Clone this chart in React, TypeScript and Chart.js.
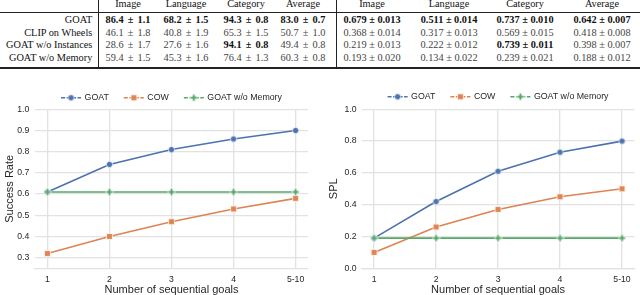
import React, { useEffect, useRef } from 'react';
import { Chart, registerables } from 'chart.js';

Chart.register(...registerables);

// ---------- data ----------
const GOAL_LABELS = ['1', '2', '3', '4', '5-10'];
const SERIES_NAMES = ['GOAT', 'COW', 'GOAT w/o Memory'];

const SR_GOAT = [0.61, 0.74, 0.81, 0.86, 0.9];
const SR_COW = [0.32, 0.4, 0.47, 0.53, 0.58];
const SR_NO_MEMORY = [0.61, 0.61, 0.61, 0.61, 0.61];
const SR_TICKS = [0.3, 0.4, 0.5, 0.6, 0.7, 0.8, 0.9, 1.0];

const SPL_GOAT = [0.19, 0.42, 0.61, 0.73, 0.8];
const SPL_COW = [0.1, 0.26, 0.37, 0.45, 0.5];
const SPL_NO_MEMORY = [0.19, 0.19, 0.19, 0.19, 0.19];
const SPL_TICKS = [0.0, 0.2, 0.4, 0.6, 0.8, 1.0];

const TABLE_COLUMNS = ['Image', 'Language', 'Category', 'Average'];
const TABLE_METHODS = ['GOAT', 'CLIP on Wheels', 'GOAT w/o Instances', 'GOAT w/o Memory'];
const SR_MEAN = [
  [86.4, 68.2, 94.3, 83.0],
  [46.1, 40.8, 65.3, 50.7],
  [28.6, 27.6, 94.1, 49.4],
  [59.4, 45.3, 76.4, 60.3],
];
const SR_STD = [
  [1.1, 1.5, 0.8, 0.7],
  [1.8, 1.9, 1.5, 1.0],
  [1.7, 1.6, 0.8, 0.8],
  [1.5, 1.6, 1.3, 0.8],
];
const SPL_MEAN = [
  [0.679, 0.511, 0.737, 0.642],
  [0.368, 0.317, 0.569, 0.418],
  [0.219, 0.222, 0.739, 0.398],
  [0.193, 0.134, 0.239, 0.188],
];
const SPL_STD = [
  [0.013, 0.014, 0.01, 0.007],
  [0.014, 0.013, 0.015, 0.008],
  [0.013, 0.012, 0.011, 0.007],
  [0.02, 0.022, 0.021, 0.012],
];
const SR_BOLD = [
  [true, true, true, true],
  [false, false, false, false],
  [false, false, true, false],
  [false, false, false, false],
];
const SPL_BOLD = [
  [true, true, true, true],
  [false, false, false, false],
  [false, false, true, false],
  [false, false, false, false],
];

// ---------- styles ----------
const SANS = '"Liberation Sans", Arial, Helvetica, sans-serif';
const SERIF = '"Liberation Serif", "Times New Roman", serif';
const COLORS = ['#4C72B0', '#DD8452', '#55A868'];
const MARKERS = ['circle', 'square', 'plus'];
const GRID = '#e2e2e2';
const TEXT = '#262626';

function makeMarker(shape: string, color: string): HTMLCanvasElement {
  const c = document.createElement('canvas');
  const s = 9;
  c.width = s;
  c.height = s;
  const g = c.getContext('2d')!;
  g.fillStyle = color;
  g.strokeStyle = '#ffffff';
  g.lineWidth = 0.7;
  g.beginPath();
  if (shape === 'circle') {
    g.arc(4.5, 4.5, 3.1, 0, Math.PI * 2);
  } else if (shape === 'square') {
    g.rect(1.6, 1.6, 5.8, 5.8);
  } else {
    const a = 1.0, b = 3.2, c2 = 5.8, d = 8.0;
    g.moveTo(b, a); g.lineTo(c2, a); g.lineTo(c2, b); g.lineTo(d, b); g.lineTo(d, c2);
    g.lineTo(c2, c2); g.lineTo(c2, d); g.lineTo(b, d); g.lineTo(b, c2); g.lineTo(a, c2);
    g.lineTo(a, b); g.lineTo(b, b); g.closePath();
  }
  g.fill();
  g.stroke();
  return c;
}

const seriesLegend = {
  id: 'seriesLegend',
  afterDraw(chart: any, _args: any, opts: any) {
    const { ctx, chartArea } = chart;
    const y = opts.y;
    ctx.save();
    ctx.font = `${opts.fontSize}px ${SANS}`;
    ctx.textBaseline = 'middle';
    const symW = 20, gap = 3.5, sep = 15;
    const items = chart.data.datasets.map((ds: any) => ({
      label: ds.label,
      color: ds.borderColor,
      marker: ds.pointStyle,
      w: ctx.measureText(ds.label).width,
    }));
    const total = items.reduce((s: number, it: any) => s + symW + gap + it.w, 0) + sep * (items.length - 1);
    let x = (chartArea.left + chartArea.right) / 2 - total / 2;
    items.forEach((it: any) => {
      ctx.strokeStyle = it.color;
      ctx.lineWidth = 1.5;
      ctx.setLineDash([4, 1.5]);
      ctx.beginPath();
      ctx.moveTo(x, y);
      ctx.lineTo(x + symW, y);
      ctx.stroke();
      ctx.setLineDash([]);
      ctx.drawImage(it.marker, x + symW / 2 - it.marker.width / 2, y - it.marker.height / 2);
      ctx.fillStyle = TEXT;
      ctx.fillText(it.label, x + symW + gap, y);
      x += symW + gap + it.w + sep;
    });
    ctx.restore();
  },
};

type PanelProps = {
  series: number[][];
  yTitle: string;
  yMin: number;
  yMax: number;
  yTicks: number[];
  yWidth: number;
  yTitlePad: number;
  yTickPad: number;
  padRight: number;
  legendY: number;
  left: number;
};

function Panel(p: PanelProps) {
  const ref = useRef<HTMLCanvasElement>(null);
  useEffect(() => {
    const datasets = p.series.map((vals, i) => {
      const marker = makeMarker(MARKERS[i], COLORS[i]);
      return {
        label: SERIES_NAMES[i],
        data: vals.map((v, k) => ({ x: k, y: v })),
        borderColor: COLORS[i],
        backgroundColor: COLORS[i],
        borderWidth: 1.6,
        pointStyle: marker,
        pointRadius: 3,
        order: p.series.length - i,
        tension: 0,
      };
    });
    const chart = new Chart(ref.current!, {
      type: 'line',
      data: { datasets },
      plugins: [seriesLegend],
      options: {
        animation: false,
        responsive: false,
        devicePixelRatio: 1,
        layout: { padding: { top: 29.3, right: p.padRight, left: 0, bottom: 0 } },
        plugins: {
          legend: { display: false },
          tooltip: { enabled: false },
          seriesLegend: { y: p.legendY, fontSize: 8.8 },
        } as any,
        scales: {
          x: {
            type: 'linear',
            min: -0.2,
            max: 4.2,
            afterBuildTicks: (s: any) => {
              s.ticks = GOAL_LABELS.map((_, i) => ({ value: i }));
            },
            afterFit: (s: any) => {
              s.height = 26.7;
            },
            ticks: {
              padding: 6.6,
              color: TEXT,
              autoSkip: false,
              maxRotation: 0,
              font: { family: SANS, size: 8.7, lineHeight: 1 },
              callback: (v: any) => GOAL_LABELS[v],
            },
            grid: { color: GRID, lineWidth: 1.3, drawTicks: false },
            border: { display: true, color: GRID, width: 1.3 },
            title: {
              display: true,
              text: 'Number of sequential goals',
              color: TEXT,
              font: { family: SANS, size: 11, lineHeight: 1 },
              padding: { top: 0, bottom: 0 },
            },
          },
          y: {
            type: 'linear',
            min: p.yMin,
            max: p.yMax,
            afterBuildTicks: (s: any) => {
              s.ticks = p.yTicks.map((v) => ({ value: v }));
            },
            afterFit: (s: any) => {
              s.width = p.yWidth;
            },
            ticks: {
              padding: p.yTickPad,
              color: TEXT,
              font: { family: SANS, size: 8.7, lineHeight: 1 },
              callback: (v: any) => Number(v).toFixed(1),
            },
            grid: { color: GRID, lineWidth: 1.3, drawTicks: false },
            border: { display: false },
            title: {
              display: true,
              text: p.yTitle,
              color: TEXT,
              font: { family: SANS, size: 11, lineHeight: 1 },
              padding: { top: p.yTitlePad, bottom: 0 },
            },
          },
        },
      } as any,
    });
    return () => chart.destroy();
  }, []);
  return (
    <canvas
      ref={ref}
      width={320}
      height={215}
      style={{ position: 'absolute', left: p.left, top: 80, width: 320, height: 215 }}
    />
  );
}

// ---------- table ----------
const HEADER_Y = 3.8;
const ROW_Y = [20, 32.6, 45.1, 57.7];
const LABEL_RIGHT = 92.3;
const SR_X = [128, 186, 246, 303];
const SPL_X = [372, 449, 525, 602];

function Txt(props: {
  x: number;
  y: number;
  text: string;
  bold?: boolean;
  align?: 'center' | 'right';
  color?: string;
  wordSpacing?: number;
}) {
  const shift = props.align === 'right' ? '-100%' : '-50%';
  return (
    <div
      style={{
        position: 'absolute',
        left: props.x,
        top: props.y - 6,
        height: 12,
        lineHeight: '12px',
        transform: `translateX(${shift})`,
        whiteSpace: 'nowrap',
        fontFamily: SERIF,
        fontSize: 10.3,
        wordSpacing: props.wordSpacing || 0,
        fontWeight: props.bold ? 700 : 400,
        color: props.color || '#111',
      }}
    >
      {props.text}
    </div>
  );
}

function Table() {
  const cells: any[] = [];
  TABLE_COLUMNS.forEach((c, j) => {
    cells.push(<Txt key={'h1' + j} x={SR_X[j]} y={HEADER_Y} text={c} />);
    cells.push(<Txt key={'h2' + j} x={SPL_X[j]} y={HEADER_Y} text={c} />);
  });
  TABLE_METHODS.forEach((m, i) => {
    cells.push(<Txt key={'m' + i} x={LABEL_RIGHT} y={ROW_Y[i]} text={m} align="right" />);
    for (let j = 0; j < 4; j++) {
      cells.push(
        <Txt
          key={'s' + i + j}
          x={SR_X[j]}
          y={ROW_Y[i]}
          bold={SR_BOLD[i][j]}
          wordSpacing={1.6}
          color={SR_BOLD[i][j] ? '#111' : '#444'}
          text={`${SR_MEAN[i][j].toFixed(1)} ± ${SR_STD[i][j].toFixed(1)}`}
        />
      );
      cells.push(
        <Txt
          key={'p' + i + j}
          x={SPL_X[j]}
          y={ROW_Y[i]}
          bold={SPL_BOLD[i][j]}
          color={SPL_BOLD[i][j] ? '#111' : '#444'}
          text={`${SPL_MEAN[i][j].toFixed(3)} ± ${SPL_STD[i][j].toFixed(3)}`}
        />
      );
    }
  });
  return (
    <>
      {cells}
      <div style={{ position: 'absolute', left: 0, top: 12.2, width: 640, height: 0.8, background: '#222' }} />
      <div style={{ position: 'absolute', left: 0, top: 67.2, width: 640, height: 1.6, background: '#222' }} />
      <div style={{ position: 'absolute', left: 97.6, top: 0, width: 0.8, height: 67.5, background: '#222' }} />
      <div style={{ position: 'absolute', left: 335.6, top: 0, width: 0.8, height: 67.5, background: '#222' }} />
    </>
  );
}

export default function App() {
  return (
    <div
      style={{
        position: 'absolute',
        left: 0,
        top: 0,
        width: 640,
        height: 295,
        overflow: 'hidden',
        background: '#fff',
      }}
    >
      <Table />
      <Panel
        series={[SR_GOAT, SR_COW, SR_NO_MEMORY]}
        yTitle="Success Rate"
        yMin={0.25}
        yMax={1.0}
        yTicks={SR_TICKS}
        yWidth={35}
        yTitlePad={4.5}
        yTickPad={5.7}
        padRight={12}
        legendY={17.7}
        left={0}
      />
      <Panel
        series={[SPL_GOAT, SPL_COW, SPL_NO_MEMORY]}
        yTitle="SPL"
        yMin={0}
        yMax={1.0}
        yTicks={SPL_TICKS}
        yWidth={41.7}
        yTitlePad={8.2}
        yTickPad={5}
        padRight={5}
        legendY={16.7}
        left={320}
      />
    </div>
  );
}
